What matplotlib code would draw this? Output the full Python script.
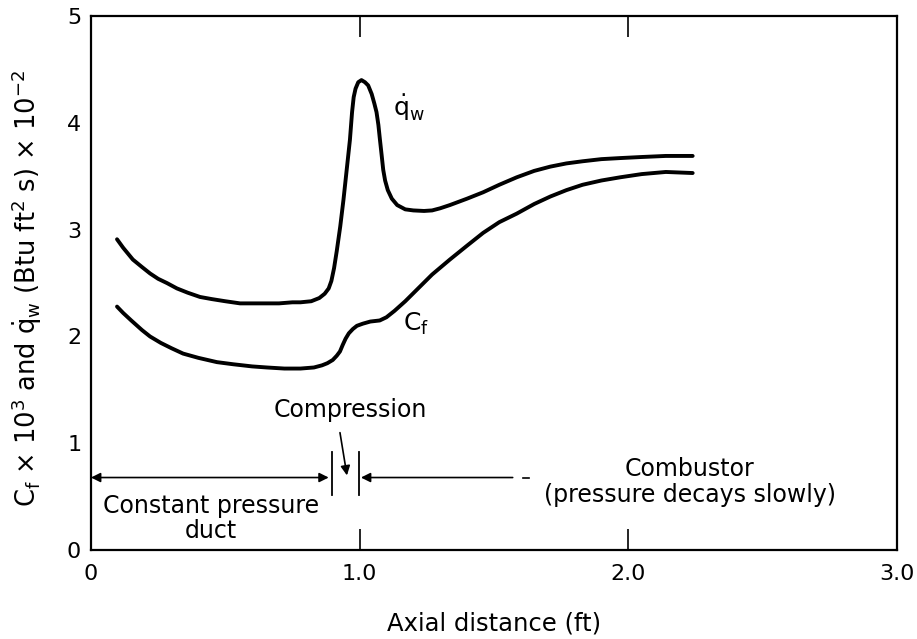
import matplotlib
matplotlib.use("Agg")
import matplotlib.pyplot as plt

plt.rcParams['font.family'] = ['DejaVu Sans']
plt.rcParams['mathtext.fontset'] = 'dejavusans'
plt.rcParams['mathtext.default'] = 'regular'

# Heat flux q_w (x 10^-2 Btu/ft^2 s)
qw_x = [0.097, 0.12, 0.156, 0.19, 0.22, 0.25, 0.283, 0.32, 0.36, 0.406, 0.45, 0.50, 0.555, 0.60,
        0.65, 0.70, 0.75, 0.78, 0.82, 0.85, 0.87, 0.885, 0.895, 0.905, 0.915, 0.928, 0.94, 0.952,
        0.964, 0.972, 0.978, 0.985, 0.995, 1.007, 1.02, 1.032, 1.045, 1.055, 1.063, 1.07, 1.075,
        1.082, 1.088, 1.095, 1.105, 1.12, 1.14, 1.17, 1.20, 1.24, 1.27, 1.30, 1.336, 1.40, 1.46,
        1.52, 1.585, 1.65, 1.71, 1.77, 1.83, 1.90, 1.97, 2.05, 2.14, 2.24]
qw_y = [2.91, 2.83, 2.72, 2.65, 2.59, 2.54, 2.50, 2.45, 2.41, 2.37, 2.35, 2.33, 2.31, 2.31,
        2.31, 2.31, 2.32, 2.32, 2.33, 2.36, 2.40, 2.45, 2.52, 2.64, 2.80, 3.03, 3.28, 3.56,
        3.84, 4.10, 4.24, 4.32, 4.38, 4.40, 4.38, 4.35, 4.27, 4.18, 4.10, 3.98, 3.86,
        3.70, 3.56, 3.46, 3.37, 3.29, 3.23, 3.19, 3.18, 3.175, 3.18, 3.20, 3.23, 3.29, 3.35,
        3.42, 3.49, 3.55, 3.59, 3.62, 3.64, 3.66, 3.67, 3.68, 3.69, 3.69]

# Skin friction C_f (x 10^3)
cf_x = [0.097, 0.12, 0.15, 0.19, 0.22, 0.26, 0.30, 0.343, 0.40, 0.469, 0.53, 0.60, 0.655, 0.72,
        0.78, 0.83, 0.86, 0.88, 0.90, 0.915, 0.927, 0.937, 0.948, 0.96, 0.975, 0.99, 1.012, 1.04,
        1.075, 1.10, 1.13, 1.17, 1.21, 1.27, 1.336, 1.40, 1.46, 1.52, 1.585, 1.65, 1.71, 1.77,
        1.83, 1.90, 1.97, 2.05, 2.14, 2.24]
cf_y = [2.28, 2.22, 2.15, 2.06, 2.00, 1.94, 1.89, 1.84, 1.80, 1.76, 1.74, 1.72, 1.71, 1.70,
        1.70, 1.71, 1.73, 1.75, 1.78, 1.82, 1.86, 1.92, 1.98, 2.03, 2.07, 2.10, 2.12, 2.14,
        2.15, 2.18, 2.24, 2.33, 2.43, 2.58, 2.72, 2.85, 2.97, 3.07, 3.15, 3.24, 3.31, 3.37,
        3.42, 3.46, 3.49, 3.52, 3.54, 3.53]

xticks = [0, 1.0, 2.0, 3.0]
xticklabels = ['0', '1.0', '2.0', '3.0']
yticks = [0, 1, 2, 3, 4, 5]

fig = plt.figure(figsize=(9.17, 6.39), dpi=100)
ax = fig.add_axes([0.0992, 0.139, 0.8788, 0.836])

ax.plot(qw_x, qw_y, color='black', lw=2.8, solid_capstyle='round', solid_joinstyle='round')
ax.plot(cf_x, cf_y, color='black', lw=2.8, solid_capstyle='round', solid_joinstyle='round')

ax.set_xlim(0, 3.0)
ax.set_ylim(0, 5)
ax.set_xticks(xticks)
ax.set_xticklabels(xticklabels)
ax.set_yticks(yticks)
for s in ax.spines.values():
    s.set_linewidth(1.6)

ax.tick_params(axis='both', direction='in', length=15, width=1.2, labelsize=16,
               top=True, right=True)
ax.tick_params(axis='x', pad=10)
ax.tick_params(axis='y', pad=7)
for t in ax.xaxis.get_major_ticks():
    if t.get_loc() in (0, 3.0):
        t.tick1line.set_visible(False); t.tick2line.set_visible(False)
for t in ax.yaxis.get_major_ticks():
    if t.get_loc() in (0, 5):
        t.tick1line.set_visible(False); t.tick2line.set_visible(False)

ax.set_xlabel('Axial distance (ft)', fontsize=17.5, labelpad=20)
ax.set_ylabel(r'C$_\mathrm{f}$ × 10$^3$ and $\dot{q}_\mathrm{w}$ (Btu ft$^2$ s) × 10$^{-2}$',
              fontsize=18.5, va='center')
ax.yaxis.set_label_coords(-0.08, 0.49)

# curve labels
ax.text(1.124, 4.14, r'$\dot{q}_\mathrm{w}$', fontsize=18, ha='left', va='center')
ax.text(1.16, 2.12, r'C$_\mathrm{f}$', fontsize=18, ha='left', va='center')

# region annotations
yarr = 0.68
ax.annotate('', xy=(0.0, yarr), xytext=(0.885, yarr),
            arrowprops=dict(arrowstyle='<|-|>', color='black', lw=1.2, shrinkA=0, shrinkB=0,
                            mutation_scale=14))
ax.annotate('', xy=(1.005, yarr), xytext=(1.57, yarr),
            arrowprops=dict(arrowstyle='-|>', color='black', lw=1.2, shrinkA=0, shrinkB=0,
                            mutation_scale=14))
ax.plot([1.61, 1.63], [yarr, yarr], color='black', lw=1.2)
ax.plot([0.897, 0.897], [0.52, 0.92], color='black', lw=1.3)
ax.plot([0.997, 0.997], [0.52, 0.92], color='black', lw=1.3)
ax.annotate('', xy=(0.953, 0.70), xytext=(0.927, 1.10),
            arrowprops=dict(arrowstyle='-|>', color='black', lw=1.2, shrinkA=0, shrinkB=0,
                            mutation_scale=14))

ax.text(0.964, 1.31, 'Compression', fontsize=17, ha='center', va='center')
ax.text(0.447, 0.295, 'Constant pressure\nduct', fontsize=17, ha='center', va='center',
        linespacing=1.05)
ax.text(2.23, 0.635, 'Combustor\n(pressure decays slowly)', fontsize=17, ha='center',
        va='center', linespacing=1.1)

fig.savefig('out.png', dpi=100)
